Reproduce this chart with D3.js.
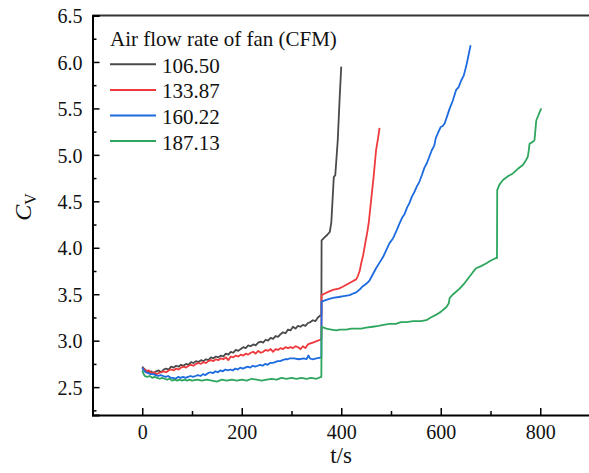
<!DOCTYPE html>
<html>
<head>
<meta charset="utf-8">
<script src="https://cdn.jsdelivr.net/npm/d3@7"></script>
<style>
  body { margin: 0; background: #fff; }
  svg { display: block; }
  svg text { font-family: "Liberation Serif", "Times New Roman", serif; }
</style>
</head>
<body>
<svg id="chart" width="589" height="473"></svg>
<script>
// series: [t (s), Cv]
const legendTitle = "Air flow rate of fan (CFM)";
const seriesNames = ["106.50", "133.87", "160.22", "187.13"];
const seriesColors = ["#4a4a4a", "#f0393c", "#1c6be0", "#2ea65e"];

const s106 = [[0,2.72],[3,2.70],[8,2.68],[12,2.66],[18,2.67],[22,2.65],[28,2.67],[33,2.68],[38,2.66],[43,2.69],[48,2.70],[53,2.69],[58,2.72],[63,2.71],[68,2.73],[73,2.72],[78,2.74],[83,2.73],[88,2.75],[93,2.74],[98,2.77],[103,2.76],[108,2.78],[113,2.77],[118,2.79],[123,2.78],[128,2.80],[133,2.79],[138,2.82],[143,2.81],[148,2.83],[153,2.82],[158,2.84],[163,2.83],[168,2.86],[173,2.85],[178,2.88],[183,2.87],[188,2.90],[193,2.89],[198,2.91],[203,2.93],[208,2.92],[213,2.95],[218,2.94],[223,2.96],[228,2.95],[233,2.98],[238,2.99],[243,2.98],[248,3.01],[253,3.00],[258,3.03],[263,3.02],[268,3.05],[273,3.04],[278,3.07],[283,3.09],[288,3.08],[293,3.12],[298,3.11],[303,3.15],[308,3.13],[313,3.16],[318,3.15],[323,3.17],[328,3.16],[333,3.19],[338,3.20],[343,3.22],[348,3.21],[353,3.25],[358,3.27],[360,3.28],[360.5,4.08],[366,4.11],[372,4.14],[377,4.17],[380,4.27],[382.5,4.51],[385,4.76],[388,4.78],[393,5.16],[396.6,5.59],[400,5.95]];

const s133 = [[0,2.71],[4,2.69],[8,2.67],[13,2.68],[18,2.65],[23,2.66],[28,2.64],[33,2.65],[38,2.66],[43,2.67],[48,2.66],[53,2.68],[58,2.69],[63,2.68],[68,2.70],[73,2.69],[78,2.71],[83,2.72],[88,2.71],[93,2.73],[98,2.74],[103,2.73],[108,2.75],[113,2.76],[118,2.75],[123,2.77],[128,2.76],[133,2.78],[138,2.79],[143,2.78],[148,2.80],[153,2.79],[158,2.81],[163,2.80],[168,2.82],[173,2.79],[178,2.83],[183,2.82],[188,2.84],[193,2.83],[198,2.85],[203,2.84],[208,2.86],[213,2.85],[218,2.87],[223,2.88],[228,2.86],[233,2.89],[238,2.87],[243,2.88],[248,2.90],[253,2.89],[258,2.91],[263,2.88],[268,2.91],[273,2.90],[278,2.92],[283,2.91],[288,2.93],[293,2.92],[298,2.93],[303,2.92],[308,2.94],[313,2.93],[318,2.91],[323,2.94],[328,2.92],[333,2.96],[338,2.97],[343,2.98],[348,2.99],[353,3.00],[358,3.01],[360,3.02],[360.5,3.49],[368,3.51],[376,3.53],[385,3.55],[395,3.56],[403,3.58],[413,3.61],[423,3.64],[430,3.66],[433,3.69],[437,3.75],[440,3.83],[444,3.92],[447,4.01],[450,4.10],[453,4.19],[455.5,4.28],[460,4.51],[465,4.76],[470,5.05],[474,5.18],[477,5.29]];

const s160 = [[0,2.71],[3,2.68],[7,2.66],[12,2.65],[17,2.64],[22,2.64],[27,2.63],[32,2.62],[37,2.63],[42,2.62],[47,2.61],[52,2.62],[57,2.60],[62,2.60],[67,2.59],[72,2.61],[77,2.60],[82,2.61],[87,2.60],[92,2.61],[97,2.62],[102,2.61],[107,2.62],[112,2.63],[117,2.62],[122,2.64],[127,2.63],[132,2.65],[137,2.66],[142,2.65],[147,2.67],[152,2.66],[157,2.68],[162,2.67],[167,2.69],[172,2.68],[177,2.69],[182,2.68],[187,2.70],[192,2.69],[197,2.71],[202,2.70],[207,2.71],[212,2.72],[217,2.71],[222,2.73],[227,2.72],[232,2.73],[237,2.74],[242,2.73],[247,2.75],[252,2.74],[257,2.76],[262,2.76],[267,2.77],[272,2.78],[277,2.78],[282,2.79],[287,2.80],[292,2.80],[297,2.81],[305,2.81],[315,2.80],[325,2.81],[330,2.80],[334,2.84],[337,2.81],[342,2.80],[350,2.81],[360,2.82],[360.5,3.42],[370,3.44],[383,3.46],[395,3.47],[405,3.48],[417,3.49],[425,3.51],[430,3.52],[437,3.55],[442,3.58],[447,3.60],[452,3.62],[457,3.65],[463,3.71],[470,3.78],[477,3.84],[484,3.90],[490,3.97],[497,4.05],[504,4.10],[510,4.17],[517,4.26],[522,4.32],[527,4.36],[532,4.43],[537,4.48],[542,4.55],[547,4.60],[552,4.66],[557,4.71],[562,4.78],[567,4.86],[572,4.91],[577,4.98],[582,5.05],[587,5.10],[590,5.18],[594,5.23],[600,5.30],[604,5.31],[608,5.34],[613,5.42],[618,5.50],[624,5.58],[631,5.70],[636,5.73],[641,5.80],[646,5.85],[651,5.95],[655,6.05],[660,6.18]];

const s187 = [[0,2.68],[2,2.65],[5,2.62],[10,2.61],[15,2.62],[20,2.60],[25,2.61],[30,2.60],[35,2.59],[40,2.60],[45,2.59],[50,2.58],[55,2.59],[60,2.57],[65,2.58],[70,2.57],[75,2.58],[80,2.57],[85,2.58],[90,2.57],[95,2.58],[100,2.57],[110,2.58],[120,2.57],[130,2.58],[140,2.57],[150,2.56],[160,2.58],[170,2.57],[180,2.58],[190,2.57],[200,2.58],[210,2.57],[220,2.59],[230,2.58],[240,2.57],[250,2.58],[260,2.59],[270,2.58],[280,2.60],[290,2.59],[300,2.60],[310,2.59],[320,2.60],[330,2.59],[340,2.60],[350,2.59],[360,2.61],[360.5,3.15],[370,3.13],[380,3.12],[390,3.11],[397,3.12],[410,3.12],[420,3.13],[430,3.13],[440,3.13],[450,3.14],[463,3.15],[475,3.16],[485,3.17],[497,3.18],[510,3.18],[520,3.20],[531,3.20],[545,3.21],[560,3.21],[571,3.22],[580,3.25],[591,3.28],[600,3.31],[611,3.36],[616,3.40],[618,3.46],[625,3.50],[638,3.56],[648,3.62],[658,3.69],[665,3.74],[671,3.78],[680,3.80],[691,3.83],[700,3.86],[711,3.89],[713,3.89],[713.5,4.62],[718,4.68],[725,4.73],[735,4.77],[745,4.80],[755,4.85],[765,4.89],[770,4.93],[775,4.98],[777,5.05],[778.5,5.12],[785,5.14],[788.5,5.16],[790,5.25],[792,5.37],[795,5.41],[798,5.45],[802,5.50]];

const allSeries = [s106, s133, s160, s187];

const xTicks = [0, 200, 400, 600, 800];
const yTicks = [2.5, 3.0, 3.5, 4.0, 4.5, 5.0, 5.5, 6.0, 6.5];

const svg = d3.select("#chart");
const x = d3.scaleLinear().domain([-100, 900]).range([92.5, 590]);
const y = d3.scaleLinear().domain([2.2, 6.5]).range([415, 15.5]);

//frame (top)
svg.append("line")
  .attr("x1", x(-100)).attr("x2", x(900))
  .attr("y1", y(6.5)).attr("y2", y(6.5))
  .attr("stroke", "#333").attr("stroke-width", 2);

//data lines
const line = d3.line().x(d => x(d[0])).y(d => y(d[1]));
svg.append("g").selectAll("path")
  .data(allSeries)
  .join("path")
  .attr("d", line)
  .attr("fill", "none")
  .attr("stroke", (d, i) => seriesColors[i])
  .attr("stroke-width", 1.8)
  .attr("stroke-linejoin", "round");

//axes, ticks inward
svg.append("g").attr("transform", `translate(0,${y(2.2)})`)
  .call(d3.axisBottom(x).tickValues(xTicks).tickSize(-7).tickPadding(10).tickFormat(d3.format("d")));
svg.append("g").attr("transform", `translate(0,${y(2.2)})`)
  .call(d3.axisBottom(x).tickValues([-100, 100, 300, 500, 700]).tickSize(-4).tickFormat(""))
  .call(g => g.select(".domain").remove());

const yAxis = svg.append("g").attr("transform", `translate(${x(-100)},0)`)
  .call(d3.axisLeft(y).tickValues(yTicks).tickSize(-7).tickPadding(10).tickFormat(d3.format(".1f")));
svg.append("g").attr("transform", `translate(${x(-100)},0)`)
  .call(d3.axisLeft(y).tickValues([2.25, 2.75, 3.25, 3.75, 4.25, 4.75, 5.25, 5.75, 6.25]).tickSize(-4).tickFormat(""))
  .call(g => g.select(".domain").remove());

svg.selectAll("g").attr("font-family", null).attr("font-size", null);
svg.selectAll(".domain").attr("stroke", "#000").attr("stroke-width", 2);
svg.selectAll(".tick line").attr("stroke", "#000").attr("stroke-width", 1.5);
svg.selectAll(".tick text")
  .style("font-family", "'Liberation Serif', 'Times New Roman', serif")
  .style("font-size", "20px").attr("fill", "#111");
yAxis.selectAll(".tick text").attr("dy", "0.36em");

//axis titles
svg.append("text")
  .attr("x", 341).attr("y", 463)
  .attr("text-anchor", "middle")
  .style("font-size", "23px").attr("fill", "#111")
  .text("t/s");

const yt = svg.append("text")
  .attr("transform", "translate(31,207) rotate(-90)")
  .attr("text-anchor", "middle")
  .style("font-size", "24px").attr("fill", "#111");
yt.append("tspan").attr("font-style", "italic").text("C");
yt.append("tspan").style("font-size", "16px").attr("dy", 5).text("V");

//legend
const lg = svg.append("g");
lg.append("text")
  .attr("x", 110).attr("y", 46)
  .style("font-size", "21px").attr("fill", "#111")
  .text(legendTitle);
const items = lg.selectAll("g.item")
  .data(seriesNames)
  .join("g")
  .attr("class", "item")
  .attr("transform", (d, i) => `translate(0,${64.3 + i * 25.6})`);
items.append("line")
  .attr("x1", 110).attr("x2", 156)
  .attr("stroke", (d, i) => seriesColors[i])
  .attr("stroke-width", 2);
items.append("text")
  .attr("x", 162).attr("dy", "0.4em")
  .style("font-size", "21px").attr("fill", "#111")
  .text(d => d);
</script>
</body>
</html>
